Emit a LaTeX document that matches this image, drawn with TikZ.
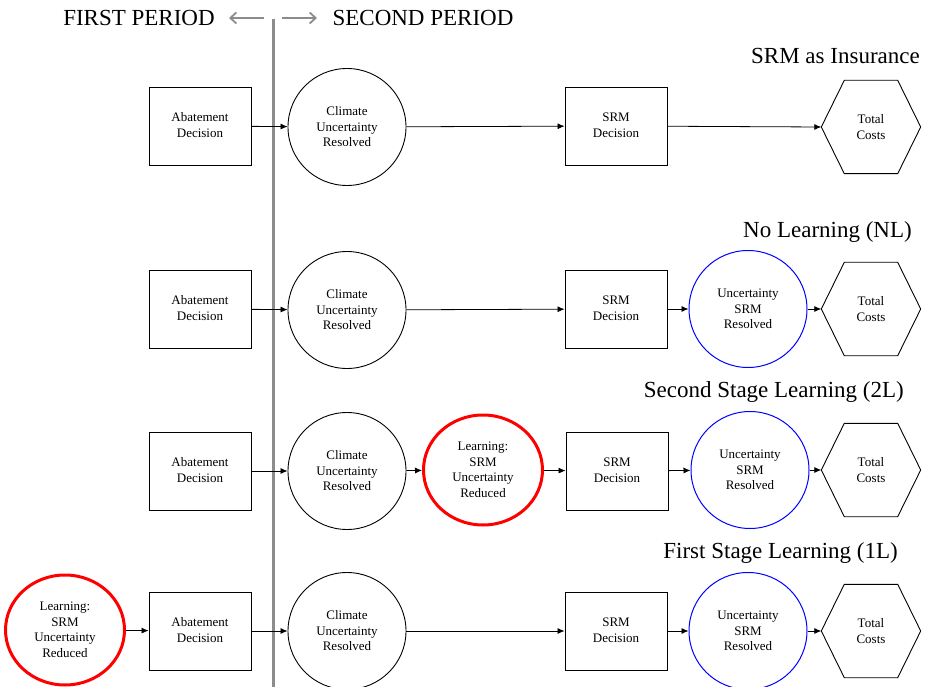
\documentclass[tikz,border=0pt]{standalone}
\usepackage{fontspec}
\setmainfont{Liberation Serif}
\usetikzlibrary{shapes.geometric,arrows.meta}
\newcommand\nodefont{\fontsize{13}{15.5}\selectfont}
\newcommand\titlefont{\fontsize{23}{27}\selectfont}
\newcommand\hexdraw[1]{\draw[line width=0.9pt] (#1.west) -- ([xshift=23pt]#1.north west) -- ([xshift=-23pt]#1.north east) -- (#1.east) -- ([xshift=-23pt]#1.south east) -- ([xshift=23pt]#1.south west) -- cycle;}
\definecolor{periodgray}{HTML}{8C8C8C}
\begin{document}
\begin{tikzpicture}[x=1pt,y=-1pt,
  box/.style={draw,line width=0.9pt,minimum width=102pt,minimum height=78pt,align=center,font=\nodefont,inner sep=0pt,text depth=2pt},
  circ/.style={draw,ellipse,line width=0.9pt,minimum width=118pt,minimum height=117pt,align=center,font=\nodefont,inner sep=0pt},
  bluecirc/.style={circ,draw=blue,line width=1pt},
  redcirc/.style={circ,draw=red,line width=3pt,minimum width=119pt,minimum height=110pt},
  hexbase/.style={minimum width=99pt,minimum height=93pt,align=center,font=\nodefont,inner sep=0pt},
  conn/.style={-{Latex[length=7pt,width=6pt]},line width=0.8pt},
  title/.style={font=\titlefont,inner sep=0pt,anchor=east},
  period/.style={font=\titlefont,inner sep=0pt},
  periodarrow/.style={periodgray,line width=1.8pt,-{Straight Barb[length=6pt,width=11pt]}}
]
\useasboundingbox (0,0) rectangle (927,687);

% header
\node[period] (fp) at (139,18) {FIRST PERIOD};
\node[period] (sp) at (423,18) {SECOND PERIOD};
\coordinate (la) at (264,18);
\coordinate (lb) at (229,18);
\coordinate (ra) at (282,18);
\coordinate (rb) at (317,18);
\draw[periodarrow] (la) -- (lb);
\draw[periodarrow] (ra) -- (rb);
\coordinate (vt) at (273,19);
\coordinate (vb) at (273,687);
\draw[periodgray,line width=3pt] (vt) -- (vb);

% row 1: SRM as Insurance
\node[title] (t1) at (920,56) {SRM as Insurance};
\node[box] (a1) at (200,126) {Abatement\\Decision};
\node[circ] (c1) at (347,127) {Climate\\Uncertainty\\Resolved};
\node[box] (s1) at (616,126) {SRM\\Decision};
\node[hexbase] (h1) at (871,127) {Total\\Costs};
\hexdraw{h1}
\draw[conn] (a1) -- (c1);
\draw[conn] (c1) -- (s1);
\draw[conn] (s1) -- (h1.west);

% row 2: No Learning
\node[title] (t2) at (912,232) {No Learning (NL)};
\node[box] (a2) at (200,309) {Abatement\\Decision};
\node[circ] (c2) at (347,310) {Climate\\Uncertainty\\Resolved};
\node[box] (s2) at (616,309) {SRM\\Decision};
\node[bluecirc] (b2) at (748,309) {Uncertainty\\SRM\\Resolved};
\node[hexbase] (h2) at (871,309) {Total\\Costs};
\hexdraw{h2}
\draw[conn] (a2) -- (c2);
\draw[conn] (c2) -- (s2);
\draw[conn] (s2) -- (b2);
\draw[conn] (b2) -- (h2.west);

% row 3: Second Stage Learning
\node[title] (t3) at (904,392) {Second Stage Learning (2L)};
\node[box] (a3) at (200,471) {Abatement\\Decision};
\node[circ] (c3) at (347,471) {Climate\\Uncertainty\\Resolved};
\node[redcirc] (r3) at (483,470) {Learning:\\SRM\\Uncertainty\\Reduced};
\node[box] (s3) at (617,471) {SRM\\Decision};
\node[bluecirc] (b3) at (750,470) {Uncertainty\\SRM\\Resolved};
\node[hexbase] (h3) at (871,470) {Total\\Costs};
\hexdraw{h3}
\draw[conn] (a3) -- (c3);
\draw[conn] (c3) -- (r3);
\draw[conn] (r3) -- (s3);
\draw[conn] (s3) -- (b3);
\draw[conn] (b3) -- (h3.west);

% row 4: First Stage Learning
\node[title] (t4) at (898,553) {First Stage Learning (1L)};
\node[redcirc] (r4) at (65,630) {Learning:\\SRM\\Uncertainty\\Reduced};
\node[box] (a4) at (200,631) {Abatement\\Decision};
\node[circ] (c4) at (347,631) {Climate\\Uncertainty\\Resolved};
\node[box] (s4) at (616,631) {SRM\\Decision};
\node[bluecirc] (b4) at (748,631) {Uncertainty\\SRM\\Resolved};
\node[hexbase] (h4) at (871,631) {Total\\Costs};
\hexdraw{h4}
\draw[conn] (r4) -- (a4);
\draw[conn] (a4) -- (c4);
\draw[conn] (c4) -- (s4);
\draw[conn] (s4) -- (b4);
\draw[conn] (b4) -- (h4.west);
\end{tikzpicture}
\end{document}
